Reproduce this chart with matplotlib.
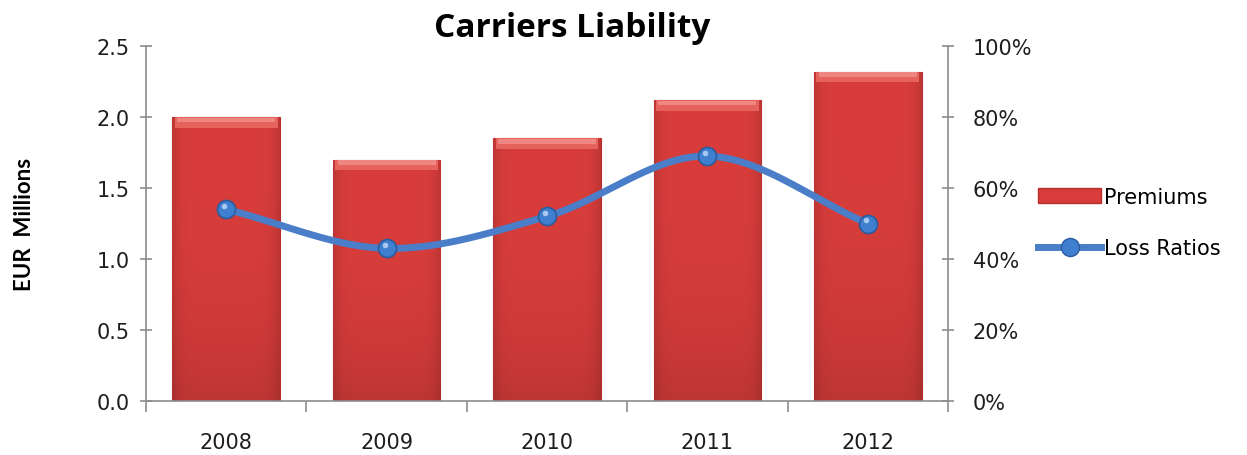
import numpy as np
import matplotlib
matplotlib.use("Agg")
import matplotlib.pyplot as plt
from matplotlib.patches import Rectangle
from matplotlib.lines import Line2D
from matplotlib.ticker import FuncFormatter

# data
years = ["2008", "2009", "2010", "2011", "2012"]
premiums = [2.00, 1.70, 1.85, 2.12, 2.32]          # EUR millions
loss_ratios = [0.54, 0.43, 0.52, 0.69, 0.50]       # share of premiums

bar_red = "#d83d3b"
line_blue = "#4a7ec8"
axis_grey = "#8c8c8c"
label_col = "#1e1e1e"

fig = plt.figure(figsize=(12.47, 4.56), dpi=100)
ax = fig.add_axes([0.1171, 0.1184, 0.6431, 0.7785])
ax2 = ax.twinx()

x = np.arange(len(years))
bw = 0.67

# bars with a soft shading and a lighter bevel on top
bars = ax.bar(x, premiums, width=bw, color=bar_red, edgecolor="#b8302d", linewidth=0.8, zorder=2)
hx = np.linspace(-1, 1, 64)
vy = np.linspace(0, 1, 64)      # 0 = top row, 1 = bottom row
shade = (1 - 0.12 * hx[None, :] ** 8) * (1 - 0.12 * vy[:, None] ** 3)
base = np.array(matplotlib.colors.to_rgb(bar_red))
grad = np.clip(shade[:, :, None] * base[None, None, :], 0, 1)
for b, v in zip(bars, premiums):
    x0 = b.get_x()
    im = ax.imshow(grad, extent=(x0, x0 + bw, 0, v), aspect="auto", zorder=2.1,
                   interpolation="bicubic")
    im.set_clip_path(b)
    bev = 0.075
    ax.add_patch(Rectangle((x0 + 0.015, v - bev), bw - 0.03, bev, facecolor="#e5625d",
                           edgecolor="none", zorder=2.2))
    ax.add_patch(Rectangle((x0 + 0.03, v - bev * 0.5), bw - 0.06, bev * 0.42, facecolor="#ee8781",
                           edgecolor="none", zorder=2.3))

ax.set_xlim(-0.5, len(years) - 0.5)
ax.set_ylim(0, 2.5)
ax.set_yticks(np.arange(0, 2.51, 0.5))
ax.yaxis.set_major_formatter(FuncFormatter(lambda v, p: f"{v:.1f}"))
ax.set_xticks(x)
ax.set_xticklabels(years)
ax.set_xticks(np.arange(-0.5, len(years), 1.0), minor=True)
ax.tick_params(axis="x", which="major", length=0, pad=22, labelsize=15, colors=label_col)
ax.tick_params(axis="x", which="minor", length=8, width=1.2, color=axis_grey, direction="out")
ax.tick_params(axis="y", length=8, width=1.2, color=axis_grey, direction="inout",
               labelsize=15, labelcolor=label_col, pad=8)
ax.set_ylabel("EUR  Millions", fontsize=16, fontweight="bold", family="Lato", labelpad=44)

# smoothed loss ratio line through the yearly points (Catmull-Rom)
pts = np.column_stack([x, loss_ratios]).astype(float)
ext = np.vstack([2 * pts[0] - pts[1], pts, 2 * pts[-1] - pts[-2]])
t = np.linspace(0, 1, 40)[:, None]
curve = []
for i in range(1, len(ext) - 2):
    p0, p1, p2, p3 = ext[i - 1], ext[i], ext[i + 1], ext[i + 2]
    seg = 0.5 * ((2 * p1) + (-p0 + p2) * t + (2 * p0 - 5 * p1 + 4 * p2 - p3) * t ** 2
                 + (-p0 + 3 * p1 - 3 * p2 + p3) * t ** 3)
    curve.append(seg)
curve = np.vstack(curve)
ax2.plot(curve[:, 0], curve[:, 1], color=line_blue, lw=5, solid_capstyle="round", zorder=3)
ax2.plot(x, loss_ratios, linestyle="none", marker="o", markersize=13,
         markerfacecolor="#3f7fcf", markeredgecolor="#2a5c9e", markeredgewidth=1.2, zorder=4)
ax2.plot(x - 0.012, np.array(loss_ratios) + 0.01, linestyle="none", marker="o", markersize=4,
         markerfacecolor="#a9c8ef", markeredgecolor="none", zorder=5)

ax2.set_ylim(0, 1.0)
ax2.set_yticks(np.arange(0, 1.01, 0.2))
ax2.yaxis.set_major_formatter(FuncFormatter(lambda v, p: f"{v * 100:.0f}%"))
ax2.tick_params(axis="y", length=8, width=1.2, color=axis_grey, direction="inout",
                labelsize=15, labelcolor=label_col, pad=14)

for a in (ax, ax2):
    a.spines["top"].set_visible(False)
    for s in ("left", "right", "bottom"):
        a.spines[s].set_color(axis_grey)
        a.spines[s].set_linewidth(1.2)
ax.spines["right"].set_visible(False)
ax2.spines["left"].set_visible(False)
ax2.spines["bottom"].set_visible(False)

ax2.set_zorder(ax.get_zorder() + 1)
ax2.patch.set_visible(False)

fig.text(0.459, 0.937, "Carriers Liability", ha="center", va="center",
         fontsize=24, fontweight="bold", family="Open Sans")

handles = [
    Rectangle((0, 0), 1, 1, facecolor=bar_red, edgecolor="#b8302d"),
    Line2D([0], [0], color=line_blue, lw=5, marker="o", markersize=13,
           markerfacecolor="#3f7fcf", markeredgecolor="#2a5c9e"),
]
fig.legend(handles, ["Premiums", "Loss Ratios"], loc="center left",
           bbox_to_anchor=(0.826, 0.51), frameon=False, fontsize=15,
           handlelength=3.0, handletextpad=0.15, labelspacing=1.5, borderaxespad=0)

fig.savefig("out.png", dpi=100)
